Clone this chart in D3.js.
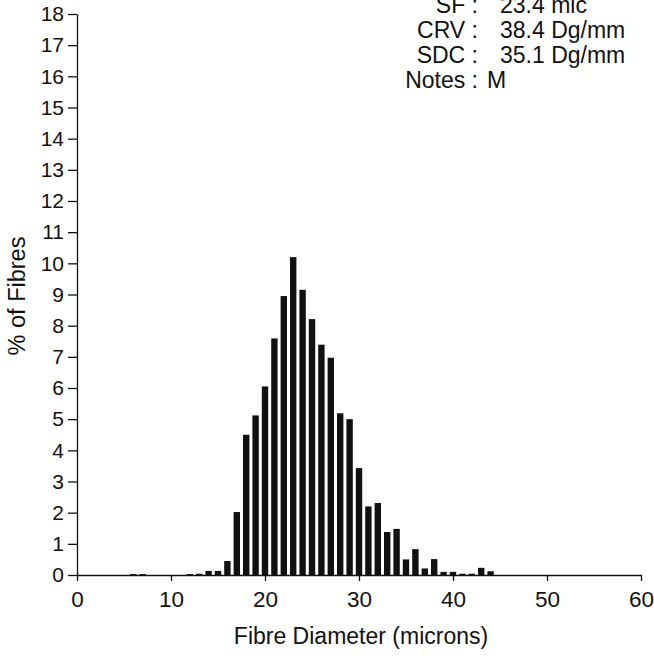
<!DOCTYPE html>
<html>
<head>
<meta charset="utf-8">
<script src="https://cdn.jsdelivr.net/npm/d3@7"></script>
<style>
  body { margin: 0; background: #fff; }
  svg { display: block; }
  text { font-family: "Liberation Sans", Arial, sans-serif; fill: #111; }
  .axis path, .axis line { stroke: #111; stroke-width: 1.3; }
  .axis text { font-family: "Liberation Sans", Arial, sans-serif; fill: #111; }
</style>
</head>
<body>
<script>
// fibre diameter bins (microns) and % of fibres
var diameters = [6, 7, 12, 13, 14, 15, 16, 17, 18, 19, 20, 21, 22, 23, 24, 25, 26, 27, 28, 29,
                 30, 31, 32, 33, 34, 35, 36, 37, 38, 39, 40, 41, 42, 43, 44];
var pctFibres = [0.03, 0.03, 0.03, 0.04, 0.13, 0.13, 0.45, 2.02, 4.5, 5.12, 6.05, 7.59, 8.95, 10.2, 9.15, 8.21, 7.39, 6.97, 5.19, 5.0,
                 3.43, 2.2, 2.31, 1.38, 1.48, 0.5, 0.83, 0.21, 0.51, 0.1, 0.1, 0.04, 0.04, 0.23, 0.12];

var xTicks = [0, 10, 20, 30, 40, 50, 60];
var yTicks = d3.range(0, 19);

var statLabels = ["SF :", "CRV :", "SDC :", "Notes :"];
var statValues = ["23.4 mic", "38.4 Dg/mm", "35.1 Dg/mm", "M"];

var W = 654, H = 660;
var svg = d3.select("body").append("svg").attr("width", W).attr("height", H);

var x = d3.scaleLinear().domain([0, 60]).range([77, 641]);
var y = d3.scaleLinear().domain([0, 18]).range([575, 14]);

var barW = x(0.68) - x(0);

// bars
svg.selectAll("rect.bar")
  .data(diameters)
  .enter()
  .append("rect")
  .attr("class", "bar")
  .attr("x", function(d) { return x(d) - barW / 2; })
  .attr("y", function(d, i) { return y(pctFibres[i]); })
  .attr("width", barW)
  .attr("height", function(d, i) { return y(0) - y(pctFibres[i]); })
  .attr("fill", "#111");

// axes
var gx = svg.append("g")
  .attr("class", "axis")
  .attr("transform", "translate(0," + y(0) + ")")
  .call(d3.axisBottom(x).tickValues(xTicks).tickSize(6).tickSizeOuter(0).tickPadding(10));
gx.selectAll("text").style("font-size", "22.5px");

var gy = svg.append("g")
  .attr("class", "axis")
  .attr("transform", "translate(" + x(0) + ",0)")
  .call(d3.axisLeft(y).tickValues(yTicks).tickSize(9).tickSizeOuter(0).tickPadding(4));
gy.selectAll("text").style("font-size", "21px");

// axis titles
svg.append("text")
  .attr("transform", "translate(25,296) rotate(-90)")
  .attr("text-anchor", "middle")
  .style("font-size", "23.5px")
  .text("% of Fibres");

svg.append("text")
  .attr("x", 361)
  .attr("y", 644)
  .attr("text-anchor", "middle")
  .style("font-size", "23px")
  .text("Fibre Diameter (microns)");

// stats block, top right
var stats = svg.append("g");
stats.selectAll("text.lab")
  .data(statLabels)
  .enter()
  .append("text")
  .attr("class", "lab")
  .attr("x", 478)
  .attr("y", function(d, i) { return 13 + i * 25.1; })
  .attr("text-anchor", "end")
  .style("font-size", "23px")
  .text(function(d) { return d; });

stats.selectAll("text.val")
  .data(statValues)
  .enter()
  .append("text")
  .attr("class", "val")
  .attr("x", function(d, i) { return i === 3 ? 487 : 500; })
  .attr("y", function(d, i) { return 13 + i * 25.1; })
  .style("font-size", "23px")
  .text(function(d) { return d; });
</script>
</body>
</html>
